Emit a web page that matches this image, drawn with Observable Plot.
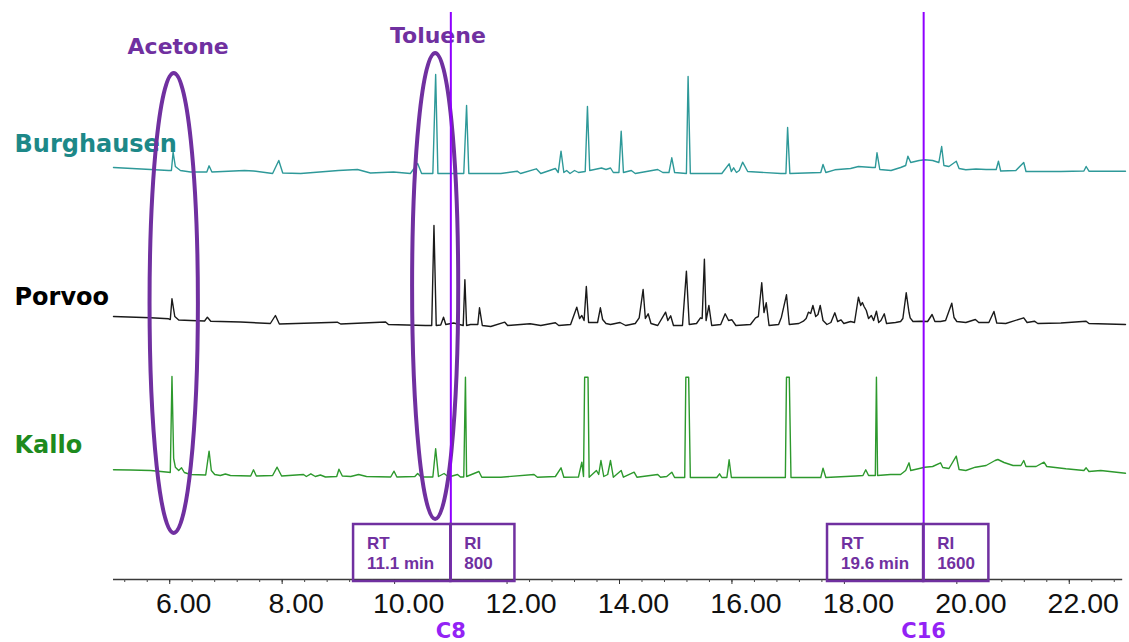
<!DOCTYPE html>
<html><head><meta charset="utf-8">
<script src="https://cdn.jsdelivr.net/npm/d3@7"></script>
<script src="https://cdn.jsdelivr.net/npm/@observablehq/plot@0.6"></script>
<style>html,body{margin:0;padding:0;background:#fff;overflow:hidden}</style>
</head><body><div id="chart"></div>
<script>
// ---- data: retention time (min), signal (arbitrary units above each trace's reference) ----
const seriesNames = ["Burghausen", "Porvoo", "Kallo"];
const seriesOffset = [404, 252, 100];

const burghausen = [
[5.00,8],[5.66,6],[5.98,5],[6.03,5],[6.06,23.3],[6.10,9],[6.19,5],[6.37,3.5],[6.66,3.5],[6.70,9.7],[6.75,3.5],
[7.33,5],[7.49,4.5],[7.83,2],[7.94,15],[8.01,2.5],[8.33,2],[9.00,5],[9.34,6],[9.57,2.5],[9.98,3.5],[10.28,2],[10.41,12],[10.48,2],
[10.68,2],[10.73,101],[10.77,2],[11.23,2],[11.28,70],[11.32,2],[11.89,2],[12.18,4.3],[12.24,2],[12.52,6.7],[12.60,2],
[12.86,7],[12.91,3],[12.96,24.3],[13.01,3],[13.06,5],[13.12,2],[13.20,5],[13.27,3],[13.39,4],[13.43,69],[13.47,5],
[13.68,7.5],[13.76,6],[13.84,7.5],[13.89,3],[13.99,3],[14.03,44.3],[14.07,3],[14.21,5],[14.28,2],[14.68,6],[14.77,3],
[14.88,3],[14.93,17.7],[14.98,3],[15.19,2],[15.22,99],[15.26,2],[15.82,2],[15.95,11.7],[15.99,4],[16.03,7.7],[16.08,3],
[16.13,5],[16.19,13.3],[16.28,4],[16.87,2],[16.96,2],[16.99,48],[17.03,2],[17.58,3],[17.62,11],[17.67,3],
[17.83,5.7],[18.11,7],[18.25,9],[18.50,8],[18.55,8],[18.58,22.7],[18.63,6],[18.83,5],[19.00,8],[19.09,10],[19.13,19.3],[19.18,13],
[19.33,15],[19.43,15.7],[19.57,15],[19.68,13],[19.73,29],[19.77,10],[19.86,9],[19.99,14.3],[20.04,7],[20.16,5.7],[20.34,6.5],[20.52,6],
[20.70,6],[20.74,14.3],[20.78,4.5],[21.05,5],[21.19,13],[21.23,4],[21.85,4],[22.26,4.5],[22.30,9],[22.35,4.3],[23.00,4.3]
];

const porvoo = [
[5.00,11],[5.66,9.7],[5.98,8.7],[6.01,8],[6.04,28.7],[6.09,11],[6.16,7.5],[6.37,7],[6.62,6.5],[6.67,10.3],[6.73,6.3],[7.26,5.5],
[7.79,4],[7.88,12],[7.95,3.5],[8.98,5.3],[9.04,3.5],[9.84,5.5],[9.89,3],[10.55,2],[10.66,2],[10.70,102],[10.74,2],[10.82,2.5],[10.87,10.3],[10.91,3],
[11.05,4.5],[11.22,2],[11.25,47.7],[11.28,2],[11.35,3],[11.48,3],[11.51,19.7],[11.56,2],[11.71,1],[11.96,5.3],[12.01,2],[12.41,3.7],[12.60,2],
[12.86,4.7],[12.92,2],[13.13,3],[13.24,20.3],[13.29,9],[13.33,12],[13.37,7],[13.41,41],[13.45,5],[13.61,5],[13.66,19.7],[13.70,8],[13.76,4],[13.84,3],
[14.01,5],[14.11,2],[14.28,4],[14.35,9.7],[14.42,38],[14.46,9],[14.51,13.7],[14.56,4],[14.68,2],[14.82,15.3],[14.86,7],[14.91,11.7],[14.96,2],
[15.12,2],[15.19,56.3],[15.24,3],[15.37,4],[15.44,9.7],[15.47,9],[15.51,68.3],[15.54,7],[15.59,22],[15.64,2],[15.80,3],[15.88,13.7],[15.94,7],[16.00,7.7],[16.07,2],
[16.33,3],[16.42,9.7],[16.47,11],[16.53,44.7],[16.57,15],[16.61,24.7],[16.66,2],[16.83,3],[16.88,10.3],[16.97,32.7],[17.02,3],
[17.19,4],[17.27,6.3],[17.32,9],[17.36,15.3],[17.40,14],[17.44,22],[17.49,11],[17.53,13],[17.57,22],[17.62,7],[17.69,3],
[17.76,5],[17.83,14.7],[17.88,6],[17.94,7.7],[17.99,4],[18.11,6],[18.18,5],[18.25,30.3],[18.29,22],[18.32,25],[18.35,21],[18.39,17],[18.43,9],
[18.48,12],[18.52,7],[18.57,16.3],[18.61,5],[18.65,7],[18.71,13.7],[18.75,4],[18.91,5],[19.00,6],[19.04,9],[19.10,34.7],[19.15,15],[19.17,9.7],[19.22,6],
[19.36,6.3],[19.48,6],[19.56,13],[19.61,6],[19.71,6],[19.80,7],[19.91,24.3],[19.95,10],[20.00,6],[20.16,5],[20.33,8],[20.39,5],[20.57,5],
[20.66,16],[20.71,4.5],[20.87,4],[21.19,9.7],[21.25,5],[21.38,6.3],[21.44,4],[21.85,4.5],[22.30,6.3],[22.35,4],[23.00,3]
];

const kallo = [
[5.00,9.7],[5.30,9.5],[5.66,9],[5.98,7.3],[6.01,7],[6.04,103],[6.07,21],[6.10,12.3],[6.16,9],[6.21,11.7],[6.26,7],[6.37,5],
[6.64,4.5],[6.70,28.3],[6.74,9],[6.80,5],[6.90,4],[6.99,5.5],[7.08,4],[7.44,3.5],[7.49,9.7],[7.54,3.5],[7.83,4],[7.91,12.3],[7.99,3.5],
[8.38,5],[8.43,3],[8.51,5.7],[8.59,3],[8.68,4.5],[8.77,2.5],[8.97,3],[9.01,10.3],[9.07,3.5],[9.22,3],[9.36,5],[9.50,3],
[9.93,2.5],[9.99,8.3],[10.04,2.5],[10.36,3],[10.41,6],[10.47,2.5],[10.68,2.5],[10.73,30.7],[10.78,3],[10.88,6],[10.96,2.5],[11.12,5],[11.17,2.5],
[11.23,2.5],[11.26,102.3],[11.28,3],[11.50,8],[11.55,2.3],[11.89,2.3],[12.48,5],[12.54,2.3],[12.86,3],[12.96,11.7],[13.01,2.3],
[13.27,2.5],[13.33,17.3],[13.36,3],[13.38,102.3],[13.44,102.3],[13.46,2.3],[13.59,9],[13.63,5],[13.67,19],[13.72,3],[13.79,5],[13.84,19],[13.89,2.3],
[14.03,9],[14.07,2.3],[14.26,7.3],[14.31,2.3],[14.68,5],[14.73,2.3],[14.84,3],[14.93,7.3],[14.98,2],
[15.16,2],[15.18,102.3],[15.23,102.3],[15.26,2],[15.73,2],[15.78,5.7],[15.82,2],[15.91,2],[15.95,19.7],[15.99,2],
[16.95,2],[16.97,102.3],[17.02,102.3],[17.05,2],[17.58,2],[17.62,11.3],[17.67,2],[18.20,3.5],[18.33,4],[18.38,9.7],[18.43,4],
[18.55,4],[18.57,102.3],[18.59,4],[18.82,5],[19.00,5],[19.09,9],[19.15,16.7],[19.18,9],[19.43,12.3],[19.57,13],[19.71,16.7],[19.75,12],[19.86,11],
[19.99,23.3],[20.04,10],[20.16,9],[20.33,12.3],[20.52,14],[20.68,19],[20.73,20],[20.84,17],[21.00,14],[21.14,14],[21.19,19],[21.23,13],
[21.41,13],[21.55,17.3],[21.60,13],[21.94,10.7],[22.26,9],[22.30,11.7],[22.35,8],[22.56,9],[23.00,6.3]
];

const majorTicks = [6, 8, 10, 12, 14, 16, 18, 20, 22];
const minorTicks = d3.range(52, 229, 4).map(d => d / 10);

const compounds = ["Acetone", "Toluene"];
const compoundRT = [6.08, 10.73];
const markerNames = ["C8", "C16"];
const markerRT = [11.00, 19.41];
const markerRTLabel = ["11.1 min", "19.6 min"];
const markerRI = ["800", "1600"];

// ---- styles / layout ----
const seriesColors = ["#2e9999", "#1a1a1a", "#2d992d"];
const labelColors = ["#1d8888", "#000000", "#1e8a1e"];
const annoPurple = "#7030a0";
const lineViolet = "#8f00ff";

const traces = seriesNames.flatMap((name, i) =>
  [burghausen, porvoo, kallo][i].map(([rt, s]) => ({series: name, rt, y: s + seriesOffset[i]})));

const seriesLabelY = [428, 275, 127];
const seriesLabels = seriesNames.map((name, i) => ({name, y: seriesLabelY[i], color: labelColors[i]}));

const ellipseSpec = [
  {rt: compoundRT[0], yc: 276, hw: 0.43, hh: 230},
  {rt: compoundRT[1], yc: 293, hw: 0.41, hh: 233}
];
const compoundLabels = [
  {name: compounds[0], rt: 6.15, y: 526},
  {name: compounds[1], rt: 10.77, y: 537}
];
const boxLeft = [9.27, 17.70];
const boxRight = [12.14, 20.57];
const boxes = markerRT.flatMap((rt, i) => [{x1: boxLeft[i], x2: rt}, {x1: rt, x2: boxRight[i]}]);
const boxText = markerRT.flatMap((rt, i) => [
  {rt: boxLeft[i] + 0.24, l1: "RT", l2: markerRTLabel[i]},
  {rt: rt + 0.24, l1: "RI", l2: markerRI[i]}
]);

const ellipseMark = (index, {x, y}) => {
  const g = d3.create("svg:g").attr("fill", "none").attr("stroke", annoPurple).attr("stroke-width", 4);
  for (const e of ellipseSpec) {
    g.append("ellipse")
      .attr("cx", x(e.rt)).attr("cy", y(e.yc))
      .attr("rx", x(e.rt + e.hw) - x(e.rt))
      .attr("ry", y(e.yc - e.hh) - y(e.yc));
  }
  return g.node();
};

const boldFont = "DejaVu Sans";

const plot = Plot.plot({
  width: 1129, height: 642,
  marginTop: 0, marginBottom: 63, marginLeft: 113, marginRight: 4,
  x: {domain: [5, 23]},
  y: {domain: [0, 579], axis: null},
  color: {domain: seriesNames, range: seriesColors},
  style: {fontFamily: "Liberation Sans", background: "#fff", overflow: "visible"},
  marks: [
    Plot.line(traces, {x: "rt", y: "y", z: "series", stroke: "series", strokeWidth: 1.4}),
    Plot.text(seriesLabels, {x: 5, y: "y", text: "name", fill: "color", dx: -99, textAnchor: "start", lineAnchor: "bottom",
      fontFamily: boldFont, fontWeight: "bold", fontSize: 24}),
    Plot.text(compoundLabels, {x: "rt", y: "y", text: "name", fill: annoPurple, lineAnchor: "bottom",
      fontFamily: boldFont, fontWeight: "bold", fontSize: 22}),
    ellipseMark,
    Plot.ruleY([0], {x1: 5, x2: 22.95, stroke: "#3a3a3a", strokeWidth: 1.5}),
    Plot.axisX(minorTicks, {tickSize: 3, tickFormat: () => "", stroke: "#444"}),
    Plot.axisX(majorTicks, {tickSize: 5, tickFormat: () => "", stroke: "#333"}),
    Plot.axisX(majorTicks, {tickSize: 0, tickPadding: 13, tickFormat: d => d.toFixed(2), fontSize: 28.5, dx: 14, fill: "#111"}),
    Plot.ruleX(markerRT, {y1: -2, y2: 567, stroke: lineViolet, strokeWidth: 2}),
    Plot.rect(boxes, {x1: "x1", x2: "x2", y1: -2, y2: 55, stroke: annoPurple, strokeWidth: 2.5, fill: "none"}),
    Plot.text(boxText, {x: "rt", y: 31, text: "l1", textAnchor: "start", lineAnchor: "bottom", fill: annoPurple, fontSize: 17, fontWeight: "bold"}),
    Plot.text(boxText, {x: "rt", y: 11, text: "l2", textAnchor: "start", lineAnchor: "bottom", fill: annoPurple, fontSize: 17, fontWeight: "bold"}),
    Plot.text(markerNames, {x: (d, i) => markerRT[i], y: -58, text: d => d, lineAnchor: "bottom", fill: "#9322f5",
      fontFamily: boldFont, fontWeight: "bold", fontSize: 21})
  ]
});
document.getElementById("chart").append(plot);
</script>
</body></html>
